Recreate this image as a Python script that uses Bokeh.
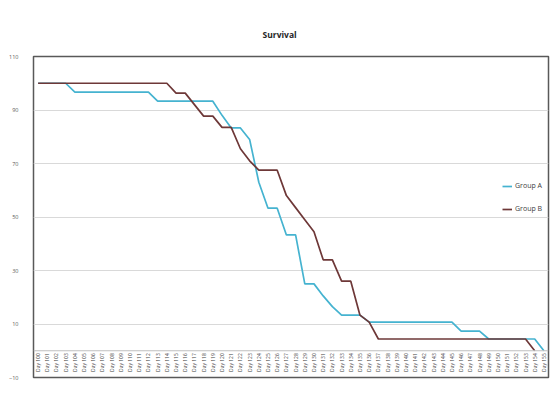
from math import pi
from bokeh.plotting import figure
from bokeh.models import Span, Legend, LegendItem, FixedTicker, Range1d, ColumnDataSource
from bokeh.core.properties import value
from bokeh.embed import file_html
from bokeh.resources import INLINE

days = ["Day 100", "Day 101", "Day 102", "Day 103", "Day 104", "Day 105", "Day 106", "Day 107",
        "Day 108", "Day 109", "Day 110", "Day 111", "Day 112", "Day 113", "Day 114", "Day 115",
        "Day 116", "Day 117", "Day 118", "Day 119", "Day 120", "Day 121", "Day 122", "Day 123",
        "Day 124", "Day 125", "Day 126", "Day 127", "Day 128", "Day 129", "Day 130", "Day 131",
        "Day 132", "Day 133", "Day 134", "Day 135", "Day 136", "Day 137", "Day 138", "Day 139",
        "Day 140", "Day 141", "Day 142", "Day 143", "Day 144", "Day 145", "Day 146", "Day 147",
        "Day 148", "Day 149", "Day 150", "Day 151", "Day 152", "Day 153", "Day 154", "Day 155"]

group_a = [100, 100, 100, 100, 96.7, 96.7, 96.7, 96.7, 96.7, 96.7, 96.7, 96.7, 96.7,
           93.3, 93.3, 93.3, 93.3, 93.3, 93.3, 93.3, 88, 83.3, 83.3, 79, 63, 53.3, 53.3,
           43.3, 43.3, 25, 25, 20.5, 16.5, 13.3, 13.3, 13.3, 10.7, 10.7, 10.7, 10.7, 10.7,
           10.7, 10.7, 10.7, 10.7, 10.7, 7.3, 7.3, 7.3, 4.4, 4.4, 4.4, 4.4, 4.4, 4.4, 0]

group_b = [100, 100, 100, 100, 100, 100, 100, 100, 100, 100, 100, 100, 100, 100, 100,
           96.3, 96.3, 92, 87.7, 87.7, 83.5, 83.5, 75.5, 71, 67.5, 67.5, 67.5, 58, 53.5,
           49, 44.5, 34, 34, 26, 26, 13.3, 10.7, 4.4, 4.4, 4.4, 4.4, 4.4, 4.4, 4.4, 4.4,
           4.4, 4.4, 4.4, 4.4, 4.4, 4.4, 4.4, 4.4, 4.4, 0, float("nan")]

y_ticks = [-10, 10, 30, 50, 70, 90, 110]
grid_ticks = [10, 30, 50, 70, 90]

idx = list(range(len(days)))

p = figure(width=558, height=396, output_backend="svg", toolbar_location=None,
           x_range=Range1d(-0.5, len(days) - 0.5), y_range=Range1d(-10, 110),
           min_border_left=33, min_border_right=10, min_border_top=56, min_border_bottom=19)

p.title.text = "Survival"
p.title.align = "left"
p.title.offset = 229
p.title.standoff = 34
p.title.text_font = "Open Sans"
p.title.text_font_size = "8.5px"
p.title.text_font_style = "bold"
p.title.text_color = "#262626"

p.xaxis.visible = False
p.yaxis.ticker = FixedTicker(ticks=y_ticks)
p.yaxis.major_tick_line_color = None
p.yaxis.minor_tick_line_color = None
p.yaxis.axis_line_color = None
p.yaxis.major_label_text_font_size = "5.5px"
p.yaxis.major_label_text_color = "#595959"
p.yaxis.major_label_text_font = "Open Sans"
p.yaxis.major_label_standoff = 9

p.xgrid.visible = False
p.ygrid.ticker = FixedTicker(ticks=grid_ticks)
p.ygrid.grid_line_color = "#d9d9d9"
p.ygrid.grid_line_width = 1

p.outline_line_color = "#595959"
p.outline_line_width = 1.5
p.background_fill_color = "white"
p.border_fill_color = "white"

p.add_layout(Span(location=0, dimension="width", line_color="#bfbfbf", line_width=1))

src = ColumnDataSource(dict(x=idx, a=group_a, b=group_b, lab=days))

p.text(x="x", y=-0.9, text="lab", source=src, angle=pi / 2, text_align="right",
       text_baseline="middle", text_font_size="5px", text_color="#404040",
       text_font=value("Open Sans"))

la = p.line("x", "a", source=src, line_color="#45b3d0", line_width=1.7)
lb = p.line("x", "b", source=src, line_color="#6e3838", line_width=1.7)

legend = Legend(items=[LegendItem(label="Group A", renderers=[la]),
                       LegendItem(label="Group B", renderers=[lb])],
                location=(469, 164), label_text_font_size="7px",
                label_text_font="Open Sans", label_text_color="#404040",
                glyph_width=10, glyph_height=8, spacing=14, padding=4,
                border_line_color=None, background_fill_color="white",
                background_fill_alpha=1.0, label_standoff=3)
p.add_layout(legend)

open("out.html", "w").write(file_html(p, INLINE))
